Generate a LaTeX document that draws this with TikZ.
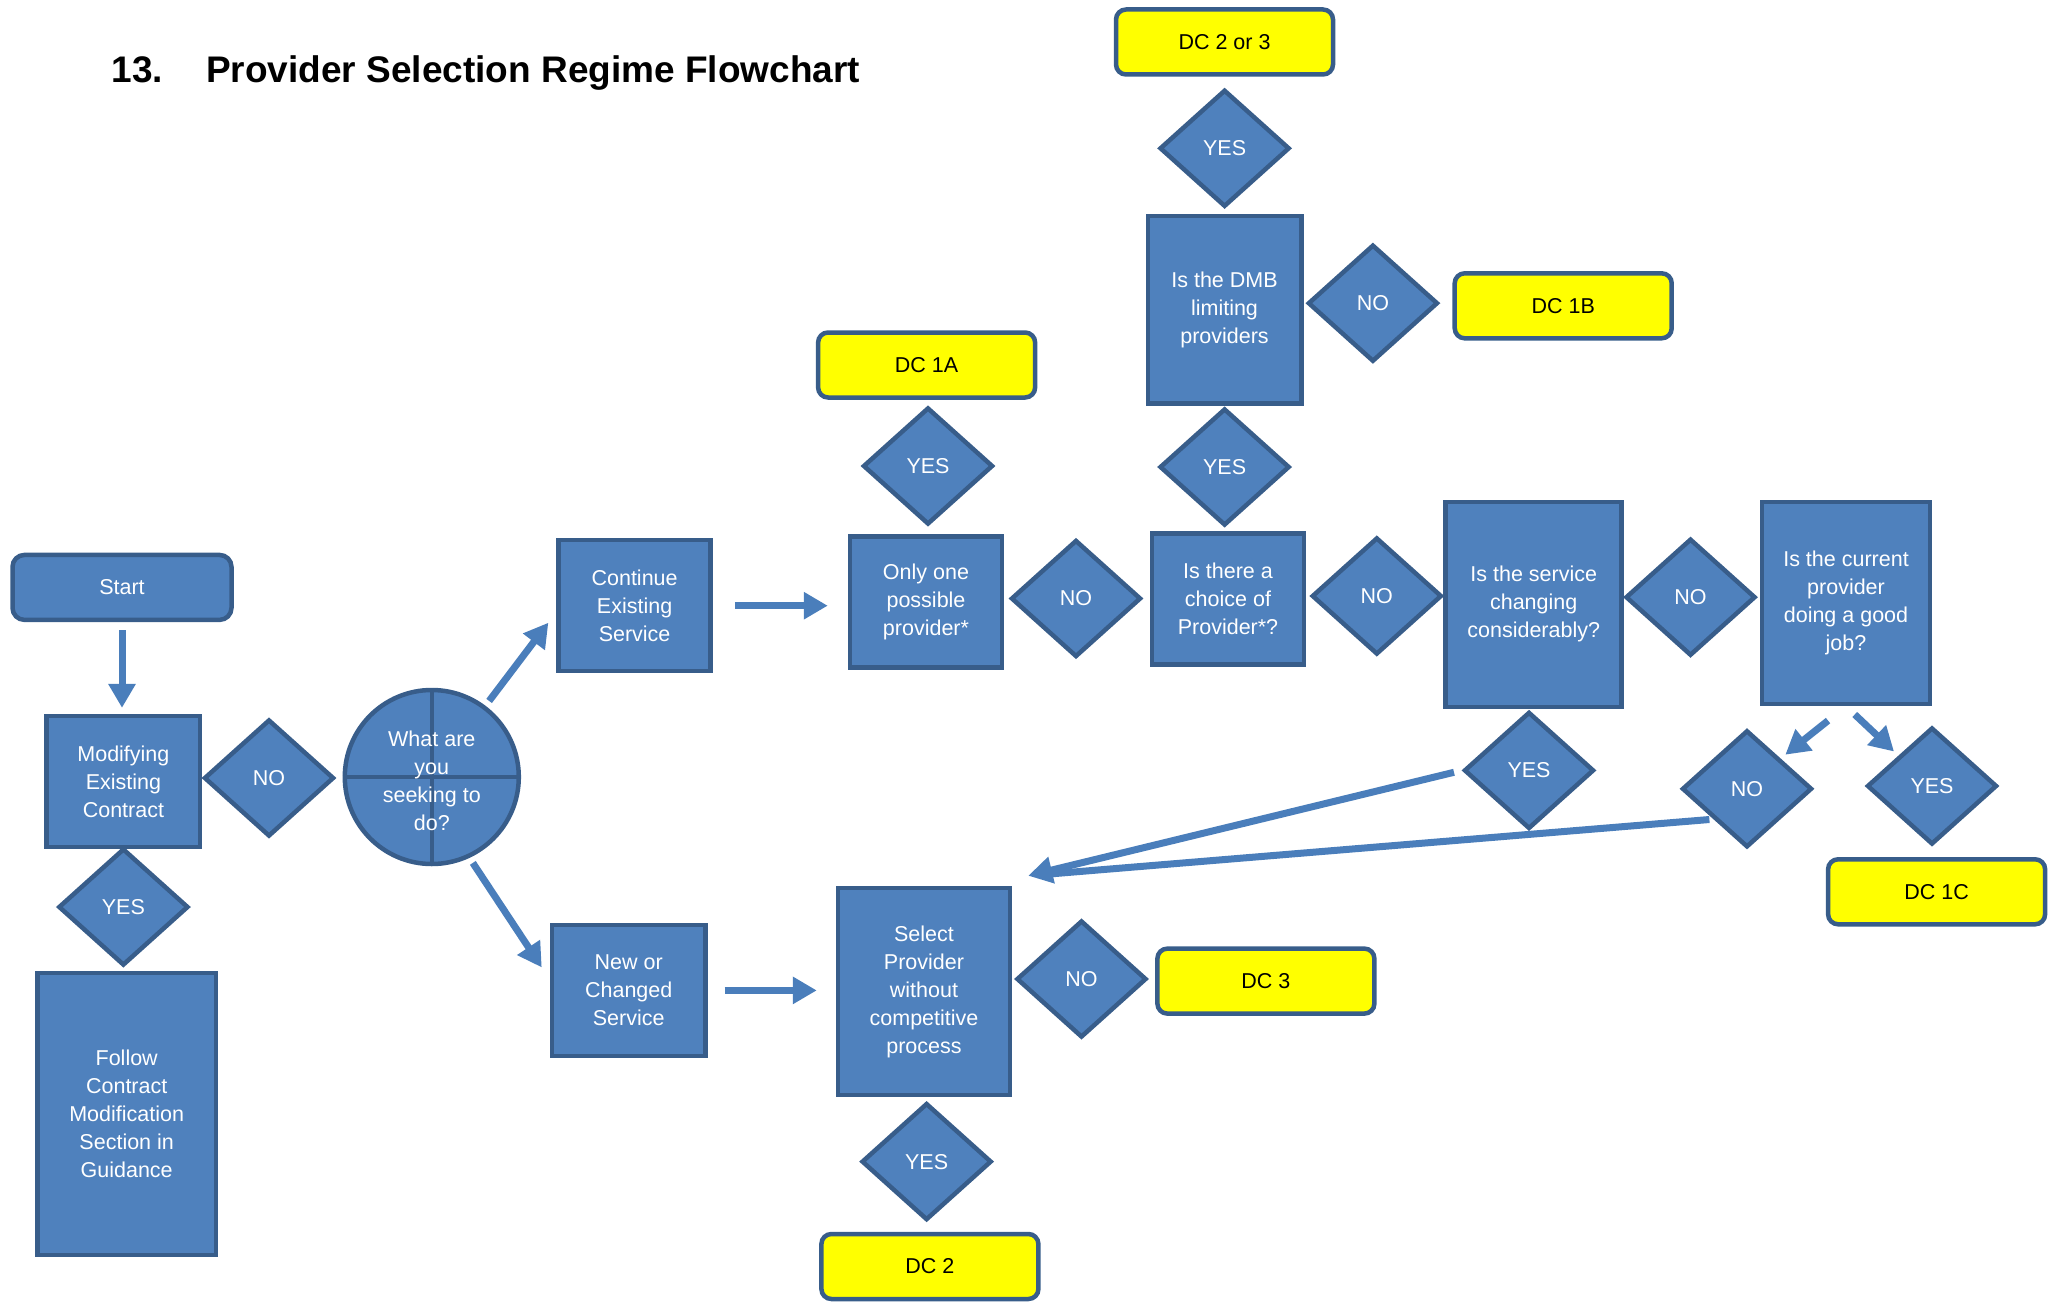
\documentclass[tikz,border=0pt]{standalone}
\usepackage{fontspec}
\setmainfont{Liberation Sans}
\usetikzlibrary{shapes.geometric,arrows.meta,calc}
\definecolor{bluef}{HTML}{4F81BD}
\definecolor{bordc}{HTML}{385D8A}
\definecolor{arrc}{HTML}{4A7EBB}
\definecolor{yel}{HTML}{FFFF00}
\newcommand\bxfont{\fontsize{21.5pt}{28pt}\selectfont}
\newcommand\ttlfont{\fontsize{37pt}{44pt}\selectfont\bfseries}
\begin{document}
\begin{tikzpicture}[x=1pt,y=-1pt,
  bx/.style={rectangle, draw=bordc, fill=bluef, line width=4.5pt, text=white, font=\bxfont, align=center, inner sep=0pt},
  dia/.style={diamond, draw=bordc, fill=bluef, line width=4.5pt, text=white, font=\bxfont, inner sep=0pt, minimum width=130pt, minimum height=117pt},
  yb/.style={rectangle, rounded corners=10pt, draw=bordc, fill=yel, line width=4.5pt, text=black, font=\bxfont, inner sep=0pt, minimum width=217pt, minimum height=65pt},
  arr/.style={draw=arrc, line width=7pt, -{Triangle[length=24pt,width=26pt]}},
  lin/.style={draw=arrc, line width=7pt}]
\useasboundingbox (0,0) rectangle (2058,1303);
% title
\node[anchor=base west, font=\ttlfont, inner sep=0pt] (tnum) at (111.6,82.7) {13.};
\node[anchor=base west, font=\ttlfont, inner sep=0pt] (ttl) at (206,82.7) {Provider Selection Regime Flowchart};
% left part
\node[bx, rounded corners=12pt, minimum width=219pt, minimum height=65pt] (start) at (122,587.4) {Start};
\node[bx, minimum width=153.5pt, minimum height=131pt] (mod) at (123.4,781.6) {Modifying\\Existing\\Contract};
\node[dia] (nmod) at (269,778) {NO};
\node[dia] (ymod) at (123.4,907) {YES};
\node[bx, minimum width=178.5pt, minimum height=282pt] (follow) at (126.7,1114.2) {Follow\\Contract\\Modification\\Section in\\Guidance};
\node[circle, draw=bordc, fill=bluef, line width=4.5pt, minimum size=174pt, inner sep=0pt] (circ) at (431.8,777) {};
\draw[bordc, line width=4.5pt] (circ.north) -- (circ.south) (circ.west) -- (circ.east);
\node[text=white, font=\bxfont, align=center, inner sep=0pt] (circt) at (431.8,780.6) {What are\\you\\seeking to\\do?};
% middle
\node[bx, minimum width=152pt, minimum height=131pt] (cont) at (634.6,605.7) {Continue\\Existing\\Service};
\node[bx, minimum width=153.4pt, minimum height=131.3pt] (new) at (628.7,990.4) {New or\\Changed\\Service};
\node[bx, minimum width=152pt, minimum height=131pt] (only) at (926,601.8) {Only one\\possible\\provider*};
\node[dia] (yonly) at (928,466) {YES};
\node[yb] (dc1a) at (926.6,365) {DC 1A};
\node[dia] (nonly) at (1076,598.5) {NO};
\node[bx, minimum width=152pt, minimum height=131pt] (choice) at (1228,599.2) {Is there a\\choice of\\Provider*?};
\node[dia] (ychoice) at (1224.6,467) {YES};
\node[bx, minimum width=153.5pt, minimum height=187.6pt] (dmb) at (1224.5,309.8) {Is the DMB\\limiting\\providers};
\node[dia] (ydmb) at (1224.6,148.3) {YES};
\node[yb] (dc23) at (1224.5,42) {DC 2 or 3};
\node[dia] (ndmb) at (1372.9,303.2) {NO};
\node[yb] (dc1b) at (1563.2,305.8) {DC 1B};
\node[dia] (nchoice) at (1376.8,596) {NO};
\node[bx, minimum width=176pt, minimum height=204.8pt] (svc) at (1533.7,604.4) {Is the service\\changing\\considerably?};
\node[dia] (nsvc) at (1690.5,597.2) {NO};
\node[bx, minimum width=168pt, minimum height=202pt] (cur) at (1846,603) {Is the current\\provider\\doing a good\\job?};
\node[dia] (ysvc) at (1529,770.4) {YES};
\node[dia] (ncur) at (1747,788.8) {NO};
\node[dia] (ycur) at (1932,786) {YES};
\node[yb] (dc1c) at (1936.6,891.8) {DC 1C};
% bottom
\node[bx, minimum width=172pt, minimum height=207pt] (sel) at (924,991.5) {Select\\Provider\\without\\competitive\\process};
\node[dia] (nsel) at (1081.5,979) {NO};
\node[yb] (dc3) at (1265.9,981.1) {DC 3};
\node[dia] (ysel) at (926.6,1161.6) {YES};
\node[yb] (dc2) at (929.9,1266.5) {DC 2};
% connectors
\draw[arr, shorten <=8pt, shorten >=6pt] (start.south) -- (start.south |- mod.north);
\draw[arr, shorten <=6pt] (circ.53) -- ($(cont.west)+(-8,17)$);
\draw[arr, shorten <=6pt] (circ.-65) -- ($(new.west)+(-8,-23)$);
\draw[arr, shorten <=22pt, shorten >=20pt] (cont.east) -- (cont.east -| only.west);
\draw[arr, shorten <=17pt, shorten >=19pt] (new.east) -- (new.east -| sel.west);
\draw[arr, shorten <=23pt, shorten >=6pt] (cur.south) -- (ncur.north east);
\draw[arr, shorten <=12pt, shorten >=6pt] (cur.south) -- (ycur.north west);
\coordinate (conv) at ($(sel.north east)+(16,-10)$);
\draw[arr, shorten <=8pt] (ysvc.west) -- (conv);
\draw[lin, shorten <=4pt, shorten >=12pt] (ncur.south west) -- (conv);
\end{tikzpicture}
\end{document}
